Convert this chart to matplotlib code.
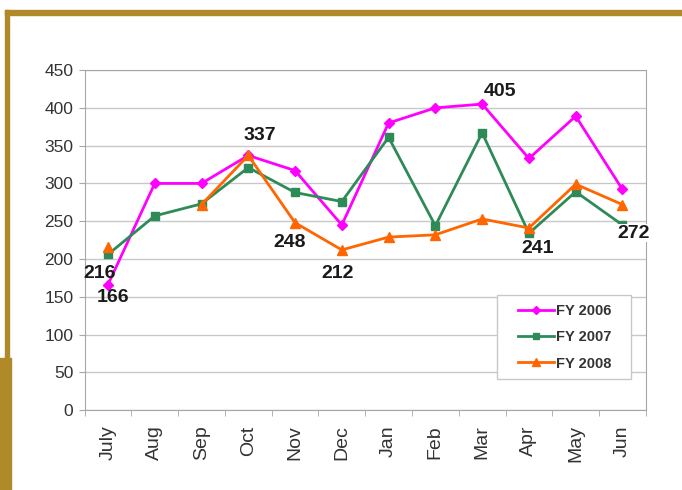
import numpy as np
import matplotlib.pyplot as plt
from matplotlib.patches import Rectangle

plt.rcParams['font.family'] = ['Liberation Sans', 'DejaVu Sans']

months = ['July', 'Aug', 'Sep', 'Oct', 'Nov', 'Dec', 'Jan', 'Feb', 'Mar', 'Apr', 'May', 'Jun']
fy2006 = [166, 300, 300, 337, 317, 245, 380, 400, 405, 333, 389, 292]
fy2007 = [206, 257, 273, 321, 288, 276, 361, 244, 367, 234, 289, 245]
fy2008 = [216, np.nan, 272, 337, 248, 212, 229, 232, 253, 241, 299, 272]

# labels shown on the chart: (text, month index, y value)
notes = [('216', 0, 216), ('166', 0, 166), ('337', 3, 337), ('248', 4, 248),
         ('212', 5, 212), ('405', 8, 405), ('241', 9, 241), ('272', 11, 272)]
# offsets in points
note_off = [(-6, -19), (3.6, -9.5), (8.6, 14.5), (-3.6, -14),
            (-2.9, -17), (13, 9.4), (6.5, -15), (8, -20.5)]

gold = '#B08A28'
grey = '#A6A6A6'

fig = plt.figure(figsize=(6.82, 4.9), dpi=100)
ax = fig.add_axes([0.124, 0.163, 0.823, 0.694])

x = np.arange(len(months))
ax.plot(x, fy2006, color='#FF00FF', marker='D', ms=5, lw=2, label='FY 2006')
ax.plot(x, fy2007, color='#2E8B57', marker='s', ms=6, lw=2, label='FY 2007')
ax.plot(x, fy2008, color='#FF6600', marker='^', ms=7, lw=2, label='FY 2008')

for (t, i, v), (dx, dy) in zip(notes, note_off):
    ax.annotate(t, (i, v), xytext=(dx, dy), textcoords='offset points', ha='center', va='center',
                fontsize=14, fontweight='bold', color='#1a1a1a',
                bbox=dict(facecolor='white', edgecolor='none', pad=0.5) if t == '272' else None)

ax.set_xlim(-0.5, 11.5)
ax.set_ylim(0, 450)
ax.set_yticks(range(0, 451, 50))
ax.yaxis.grid(True, color='#C8C8C8', lw=1)
ax.set_axisbelow(True)
ax.set_xticks(x)
ax.set_xticklabels(months, rotation=90, fontsize=14, color='#333333')
ax.set_xticks(np.arange(-0.5, 12), minor=True)
ax.tick_params(axis='x', which='major', length=0, pad=11)
ax.tick_params(axis='x', which='minor', length=4, color=grey)
ax.tick_params(axis='y', length=4, color=grey, labelsize=12.5, labelcolor='#333333', pad=4)
for s in ax.spines.values():
    s.set_color(grey)

# legend box drawn by hand, entries centred in it
ax.add_patch(Rectangle((0.735, 0.091), 0.239, 0.247, transform=ax.transAxes,
                       facecolor='white', edgecolor='#C8C8C8', lw=1, zorder=4))
leg = ax.legend(loc='center', bbox_to_anchor=(0.855, 0.2145), prop={'weight': 'bold', 'size': 10.5},
                frameon=False, handlelength=2.5, handletextpad=0.1, labelspacing=0.85, markerscale=0.8)
leg.set_zorder(5)
for txt in leg.get_texts():
    txt.set_color('#333333')

# gold frame on the slide
W, H = 682.0, 490.0
fig.add_artist(Rectangle((5 / W, 1 - 15 / H), 1, 5 / H, transform=fig.transFigure, color=gold))
fig.add_artist(Rectangle((5 / W, 1 - 358 / H), 4 / W, 348 / H, transform=fig.transFigure, color=gold))
fig.add_artist(Rectangle((0, 0), 11 / W, 1 - 358 / H, transform=fig.transFigure, color=gold))

fig.savefig('out.png', dpi=100)
